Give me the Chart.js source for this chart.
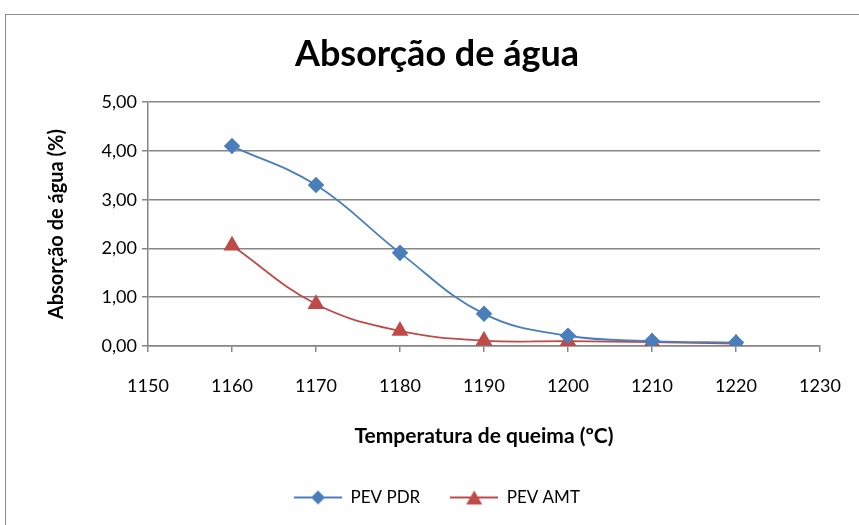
<!DOCTYPE html>
<html>
<head>
<meta charset="utf-8">
<script src="https://cdn.jsdelivr.net/npm/chart.js@4"></script>
<style>
  html, body { margin: 0; padding: 0; background: #fff; overflow: hidden; }
  #frame { position: absolute; left: 5px; top: 14px; width: 900px; height: 600px; border: 1px solid #8c8c8c; }
  #wrap { position: absolute; left: 0; top: 0; width: 859px; height: 525px; }
</style>
</head>
<body>
<div id="frame"></div>
<div id="wrap"><canvas id="chart"></canvas></div>
<script>
const temperatures = [1160, 1170, 1180, 1190, 1200, 1210, 1220];
const pevPdr = [4.10, 3.30, 1.91, 0.66, 0.21, 0.10, 0.07];
const pevAmt = [2.06, 0.86, 0.31, 0.11, 0.10, 0.08, 0.05];
const seriesNames = ['PEV PDR', 'PEV AMT'];

const blue = '#4a7ebb';
const red = '#be4b48';
const gridGray = '#868686';

// legend icon: short line with the marker in the middle, like the spreadsheet legend
function legendIcon(color, style) {
    const c = document.createElement('canvas');
    c.width = 48; c.height = 18;
    const g = c.getContext('2d');
    g.strokeStyle = color; g.lineWidth = 2;
    g.beginPath(); g.moveTo(0, 9); g.lineTo(48, 9); g.stroke();
    g.fillStyle = color;
    g.beginPath();
    if (style === 'diamond') {
        g.moveTo(24, 2); g.lineTo(31, 9); g.lineTo(24, 16); g.lineTo(17, 9);
    } else {
        g.moveTo(24, 2); g.lineTo(32, 16); g.lineTo(16, 16);
    }
    g.closePath(); g.fill();
    return c;
}
const icons = [legendIcon(blue, 'diamond'), legendIcon(red, 'triangle')];

const toXY = vals => vals.map((v, i) => ({x: temperatures[i], y: v}));

new Chart(document.getElementById('chart'), {
    type: 'line',
    data: {
        datasets: [{
            label: seriesNames[0],
            data: toXY(pevPdr),
            borderColor: blue,
            backgroundColor: blue,
            pointStyle: 'rectRot',
            pointRadius: 7,
            pointHoverRadius: 7,
            borderWidth: 1.8,
            tension: 0.4
        }, {
            label: seriesNames[1],
            data: toXY(pevAmt),
            borderColor: red,
            backgroundColor: red,
            pointStyle: 'triangle',
            pointRadius: 8,
            pointHoverRadius: 8,
            borderWidth: 1.8,
            tension: 0.4
        }]
    },
    options: {
        responsive: true,
        maintainAspectRatio: false,
        animation: false,
        layout: { padding: { left: 15, right: 0, top: 0, bottom: 9 } },
        plugins: {
            title: {
                display: true,
                text: 'Absorção de água',
                color: '#000',
                font: { family: 'Lato', size: 36, weight: 'bold' },
                padding: { top: 33, bottom: 26 }
            },
            legend: {
                position: 'bottom',
                labels: {
                    usePointStyle: true,
                    pointStyleWidth: 48,
                    padding: 30,
                    color: '#000',
                    font: { family: 'Lato', size: 17 },
                    generateLabels: chart => chart.data.datasets.map((ds, i) => ({
                        text: ds.label,
                        pointStyle: icons[i],
                        datasetIndex: i,
                        hidden: false,
                        lineWidth: 0,
                        fillStyle: ds.borderColor,
                        strokeStyle: ds.borderColor
                    }))
                }
            },
            tooltip: { enabled: false }
        },
        scales: {
            x: {
                type: 'linear',
                min: 1150,
                max: 1230,
                ticks: {
                    stepSize: 10,
                    color: '#000',
                    padding: 23,
                    font: { family: 'Lato', size: 18 },
                    callback: v => String(v)
                },
                grid: { drawOnChartArea: false, drawTicks: true, tickLength: 6, color: gridGray, lineWidth: 1.5 },
                border: { color: gridGray, width: 1.5 },
                title: {
                    display: true,
                    text: 'Temperatura de queima (ºC)',
                    color: '#000',
                    font: { family: 'Lato', size: 21, weight: 'bold' },
                    padding: { top: 0, bottom: 10 }
                },
                // tick padding would otherwise be added to the side padding too
                afterFit: s => { s.height = 113; s.paddingLeft = 0; s.paddingRight = 20; }
            },
            y: {
                min: 0,
                max: 5,
                ticks: {
                    stepSize: 1,
                    color: '#000',
                    padding: 5,
                    font: { family: 'Lato', size: 18 },
                    callback: v => v.toFixed(2).replace('.', ',')
                },
                grid: { color: gridGray, lineWidth: 1.5, tickLength: 6 },
                border: { color: gridGray, width: 1.5 },
                title: {
                    display: true,
                    text: 'Absorção de água (%)',
                    color: '#000',
                    font: { family: 'Lato', size: 20, weight: 'bold' },
                    padding: { top: 30, bottom: 0 }
                },
                afterFit: s => { s.width = 133; }
            },
            spacer: {
                position: 'right',
                display: true,
                ticks: { display: false },
                grid: { display: false },
                border: { display: false },
                afterFit: s => { s.width = 39; }
            }
        }
    }
});
</script>
</body>
</html>
